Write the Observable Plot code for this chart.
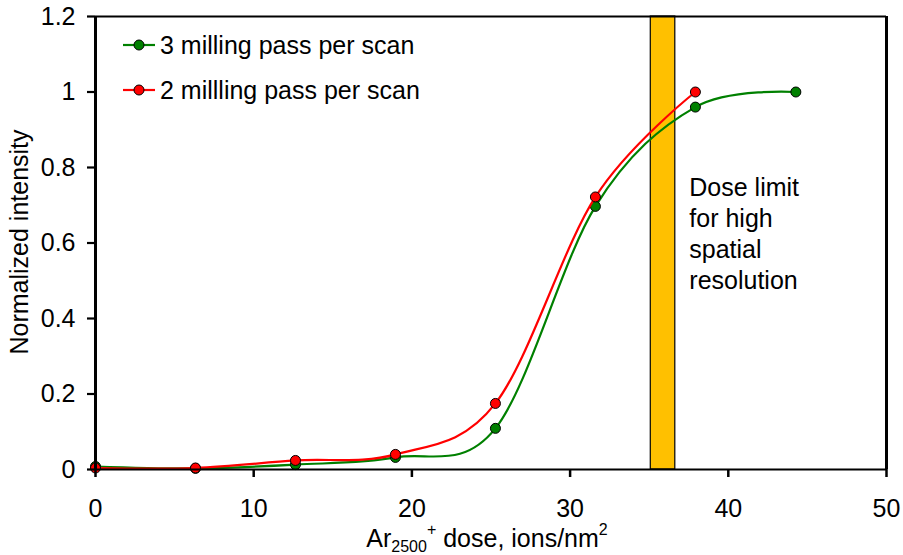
<!DOCTYPE html>
<html><head><meta charset="utf-8">
<script src="https://cdn.jsdelivr.net/npm/d3@7"></script>
<script src="https://cdn.jsdelivr.net/npm/@observablehq/plot@0.6"></script>
<style>
body{margin:0;background:#fff}
#chart{width:903px;height:555px}
</style>
</head><body><div id="chart"></div>
<script>
// ---- data ----
const seriesNames = ["3 milling pass per scan", "2 millling pass per scan"];
const seriesColors = ["#008000", "#ff0000"];
const doses3 = [0, 6.32, 12.64, 18.96, 25.28, 31.6, 37.92, 44.27];
const intensity3 = [0.008, 0.003, 0.013, 0.032, 0.109, 0.697, 0.960, 1.0];
const doses2 = [0, 6.32, 12.64, 18.96, 25.28, 31.6, 37.92];
const intensity2 = [0.004, 0.004, 0.024, 0.040, 0.175, 0.722, 1.0];
const doseLimit = [35.1, 36.65];
const annotationText = "Dose limit\nfor high\nspatial\nresolution";
const xTicks = [0, 10, 20, 30, 40, 50];
const yTicks = [0, 0.2, 0.4, 0.6, 0.8, 1, 1.2];
const yLabel = "Normalized intensity";

// ---- build tables ----
const rows3 = doses3.map((d, i) => ({dose: d, value: intensity3[i]}));
const rows2 = doses2.map((d, i) => ({dose: d, value: intensity2[i]}));

const font = "'Liberation Sans', Arial, sans-serif";
const FS = 25;

const chart = Plot.plot({
  width: 903, height: 555,
  marginLeft: 95, marginRight: 17, marginTop: 16, marginBottom: 86,
  x: {domain: [xTicks[0], xTicks[xTicks.length - 1]]},
  y: {domain: [yTicks[0], yTicks[yTicks.length - 1]]},
  style: {fontFamily: font, fontSize: FS + "px", color: "#000", background: "#fff", overflow: "visible"},
  marks: [
    Plot.rect([doseLimit], {x1: d => d[0], x2: d => d[1], fill: "#FFC000", stroke: "#000", strokeWidth: 1.2}),
    Plot.line(rows3, {x: "dose", y: "value", stroke: seriesColors[0], strokeWidth: 2.2, curve: "cardinal"}),
    Plot.dot(rows3, {x: "dose", y: "value", r: 5, fill: seriesColors[0], stroke: "#000", strokeWidth: 1}),
    Plot.line(rows2, {x: "dose", y: "value", stroke: seriesColors[1], strokeWidth: 2.2, curve: "cardinal"}),
    Plot.dot(rows2, {x: "dose", y: "value", r: 5, fill: seriesColors[1], stroke: "#000", strokeWidth: 1}),
    Plot.ruleX([xTicks[0], xTicks[xTicks.length - 1]], {stroke: "#000", strokeWidth: 3}),
    Plot.ruleY([yTicks[0], yTicks[yTicks.length - 1]], {stroke: "#000", strokeWidth: 2.2}),
    Plot.axisX({ticks: xTicks, tickSize: 8, tickPadding: 22, strokeWidth: 2.5, label: null, fill: "#000"}),
    Plot.axisY({ticks: yTicks, tickSize: 8, tickPadding: 12, strokeWidth: 2.2, label: null, fill: "#000",
      tickFormat: d => String(d)}),
    Plot.text([annotationText], {x: doseLimit[1], frameAnchor: "top", dx: 14, dy: 157, text: d => d,
      textAnchor: "start", lineAnchor: "top", lineHeight: 31 / FS, fill: "#000"})
  ]
});

const svg = d3.select(chart);

// legend
const leg = svg.append("g").attr("font-family", font).attr("font-size", FS).attr("text-anchor", "start");
seriesNames.forEach((name, i) => {
  const cy = 45 + i * 45;
  leg.append("line").attr("x1", 123).attr("x2", 155).attr("y1", cy).attr("y2", cy)
    .attr("stroke", seriesColors[i]).attr("stroke-width", 2.2);
  leg.append("circle").attr("cx", 139).attr("cy", cy).attr("r", 5)
    .attr("fill", seriesColors[i]).attr("stroke", "#000");
  leg.append("text").attr("text-anchor", "start")
    .attr("x", 160).attr("y", cy + 9).text(name);
});

// x axis label with sub/superscripts
const xl = svg.append("text").attr("font-family", font).attr("font-size", FS)
  .attr("text-anchor", "middle").attr("x", 487).attr("y", 547);
xl.append("tspan").text("Ar");
xl.append("tspan").attr("font-size", 16).attr("dy", 5).text("2500");
xl.append("tspan").attr("font-size", 16).attr("dy", -17).text("+");
xl.append("tspan").attr("dy", 12).text(" dose, ions/nm");
xl.append("tspan").attr("font-size", 16).attr("dy", -12).text("2");

// y axis label
svg.append("text").attr("font-family", font).attr("font-size", FS)
  .attr("text-anchor", "middle")
  .attr("transform", `translate(28,242) rotate(-90)`).text(yLabel);

document.getElementById("chart").appendChild(chart);
</script>
</body></html>
